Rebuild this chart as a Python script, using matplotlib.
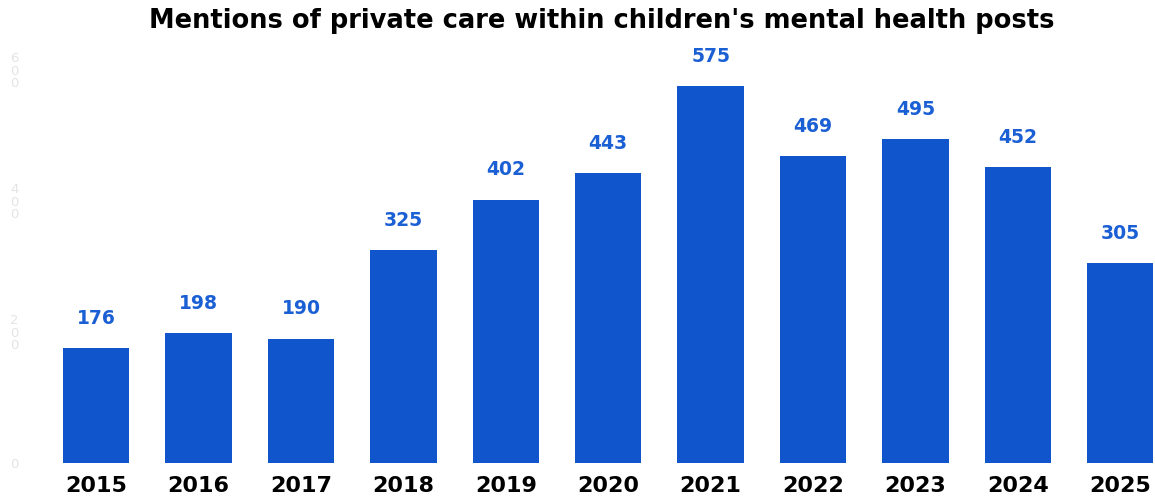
import matplotlib
matplotlib.use("Agg")
import matplotlib.pyplot as plt

years = ["2015", "2016", "2017", "2018", "2019", "2020", "2021", "2022", "2023", "2024", "2025"]
mentions = [176, 198, 190, 325, 402, 443, 575, 469, 495, 452, 305]
y_ticks = [0, 200, 400, 600]

bar_color = "#1155CC"
label_color = "#1A5FD3"

fig = plt.figure(figsize=(11.55, 5), dpi=100)
ax = fig.add_axes([45 / 1155, 37 / 500, 1110 / 1155, 418 / 500])

x = range(len(years))
bars = ax.bar(x, mentions, width=0.65, color=bar_color)

for bar, val in zip(bars, mentions):
    ax.annotate(
        str(val),
        (bar.get_x() + bar.get_width() / 2, bar.get_height()),
        xytext=(0, 14.5),
        textcoords="offset points",
        ha="center",
        va="bottom",
        fontsize=13.5,
        fontweight="bold",
        color=label_color,
    )

ax.set_xlim(-0.5, 10.34)
ax.set_ylim(0, 638)
ax.set_xticks(list(x))
ax.set_xticklabels(years, fontsize=16, fontweight="bold", color="black")
ax.set_yticks(y_ticks)
# faint vertical digit labels on the left
ax.set_yticklabels(["\n".join(str(t)) for t in y_ticks], fontsize=9.5,
                   color="#E4E4E4", linespacing=0.95)
ax.tick_params(axis="both", length=0)
ax.tick_params(axis="x", pad=9)
ax.tick_params(axis="y", pad=19)

for side in ax.spines.values():
    side.set_visible(False)

fig.suptitle("Mentions of private care within children's mental health posts",
             fontsize=18.5, fontweight="bold", x=602 / 1155, y=0.985)

fig.savefig("out.png", dpi=100)
